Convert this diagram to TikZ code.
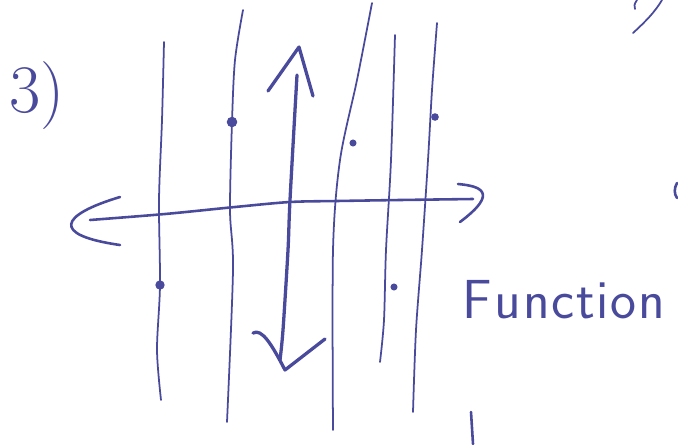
\documentclass[tikz,border=0pt]{standalone}
\usetikzlibrary{calc, positioning}
\definecolor{ink}{HTML}{4A4A9C}

\begin{document}
\begin{tikzpicture}[x=0.03cm,y=-0.03cm,line cap=round,line join=round,
        pen/.style={draw=ink,line width=1.5pt}, heavy/.style={draw=ink,line width=2.8pt},
        blot/.style={circle,fill=ink,inner sep=0pt,minimum size=#1}, blot/.default=5pt]
        \useasboundingbox (0,0) rectangle (678,444);
        \node[text=ink, font=\fontsize{58}{60}\selectfont] (num) at (37,96) {3)};
        \node[text=ink, font=\sffamily\fontsize{47}{50}\selectfont, anchor=base west, inner sep=0pt] (word) at (462,318) {F\kern2pt u\kern2pt n\kern2pt c\kern1pt t\kern1pt i\kern2pt o\kern2pt n};
        % vertical lines
        \coordinate (l_1t) at (164,42); \coordinate (l_1b) at (161,400);
        \coordinate (l_2t) at (243,10); \coordinate (l_2b) at (227,422);
        \coordinate (l_3t) at (372,3);  \coordinate (l_3b) at (333,430);
        \coordinate (l_4t) at (395,35); \coordinate (l_4b) at (380,362);
        \coordinate (l_5t) at (437,23); \coordinate (l_5b) at (413,412);
        \draw[pen] plot[smooth] coordinates {(l_1t) (162,120) (159,200) (160,285) (157,350) (l_1b)};
        \draw[pen] plot[smooth] coordinates {(l_2t) (235,60) (232,122) (230,210) (233,270) (l_2b)};
        \draw[pen] plot[smooth] coordinates {(l_3t) (357,80) (340,160) (333,250) (l_3b)};
        \draw[pen] plot[smooth] coordinates {(l_4t) (391,160) (386,250) (384,320) (l_4b)};
        \draw[pen] plot[smooth] coordinates {(l_5t) (432,90) (428,160) (422,250) (416,330) (l_5b)};
        % points
        \node[blot=8pt] (p_1) at (160,285) {};
        \node[blot=9pt] (p_2) at (232,122) {};
        \node[blot=6pt] (p_3) at (353,143) {};
        \node[blot=6pt] (p_4) at (394,287) {};
        \node[blot=6.5pt] (p_5) at (435,117) {};
        % axes
        \coordinate (y_t) at (297,75); \coordinate (y_b) at (280,360);
        \coordinate (x_l) at (90,220); \coordinate (x_r) at (473,199);
        \draw[heavy] plot[smooth] coordinates {(y_t) (290,200) (288,250) (283,330) (y_b)};
        \draw[heavy] (268,91) -- (299,47) -- (313,96);
        \draw[heavy] (253,333) .. controls (262,328) and (272,345) .. (285,370) -- (325,339);
        \draw[pen, line width=2.2pt] plot[smooth] coordinates {(x_l) (165,214) (235,207) (290,202) (337,201) (400,200) (x_r)};
        \draw[pen, line width=2.2pt] (120,197) .. controls (60,215) and (50,235) .. (120,245);
        \draw[pen, line width=2.2pt] (458,184) .. controls (480,186) and (500,192) .. (460,222);
        % stray marks
        \draw[pen] (633,33) .. controls (645,22) and (655,12) .. (662,0);
        \draw[pen] (637,0) .. controls (634,4) and (634,7) .. (635,9);
        \draw[pen, line width=2.2pt] (677,183) .. controls (674,188) and (674,194) .. (677,198);
        \draw[pen, line width=2.2pt] (471,412) -- (473,444);
    \end{tikzpicture}
\end{document}
